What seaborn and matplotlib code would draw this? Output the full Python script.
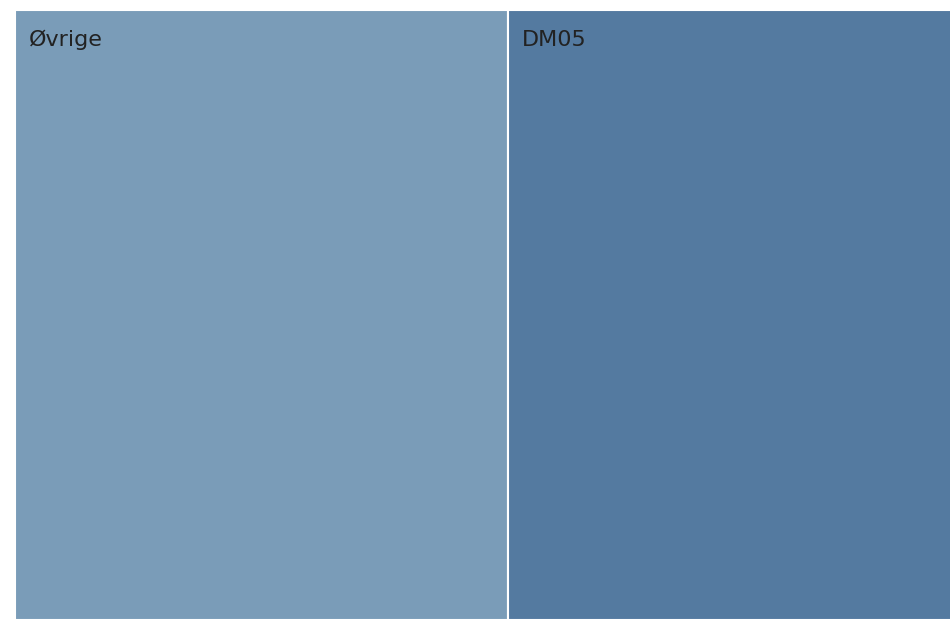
import numpy as np
import matplotlib
matplotlib.use("Agg")
import matplotlib.pyplot as plt
import seaborn as sns

categories = ["Øvrige", "DM05"]
values = [52.6, 47.4]
colors = ["#7a9cb8", "#547aa0"]

sns.set_theme(style="white")
plt.rcParams['font.family'] = ['DejaVu Sans']

fig = plt.figure(figsize=(9.5, 6.19), dpi=100)
ax = fig.add_axes([15 / 950, -1 / 619, 937 / 950, 610 / 619])

total = sum(values)
lefts = np.concatenate([[0], np.cumsum(values)[:-1]])

ax.bar(lefts, [1] * len(values), width=values, bottom=0, align="edge",
       color=colors, edgecolor="white", linewidth=1.5)

for left, name in zip(lefts, categories):
    ax.text(left + total * 0.0145, 0.951, name, fontsize=16, color="#222222",
            ha="left", va="center")

ax.set_xlim(0, total)
ax.set_ylim(0, 1)
ax.axis("off")

fig.savefig("out.png", dpi=100)
